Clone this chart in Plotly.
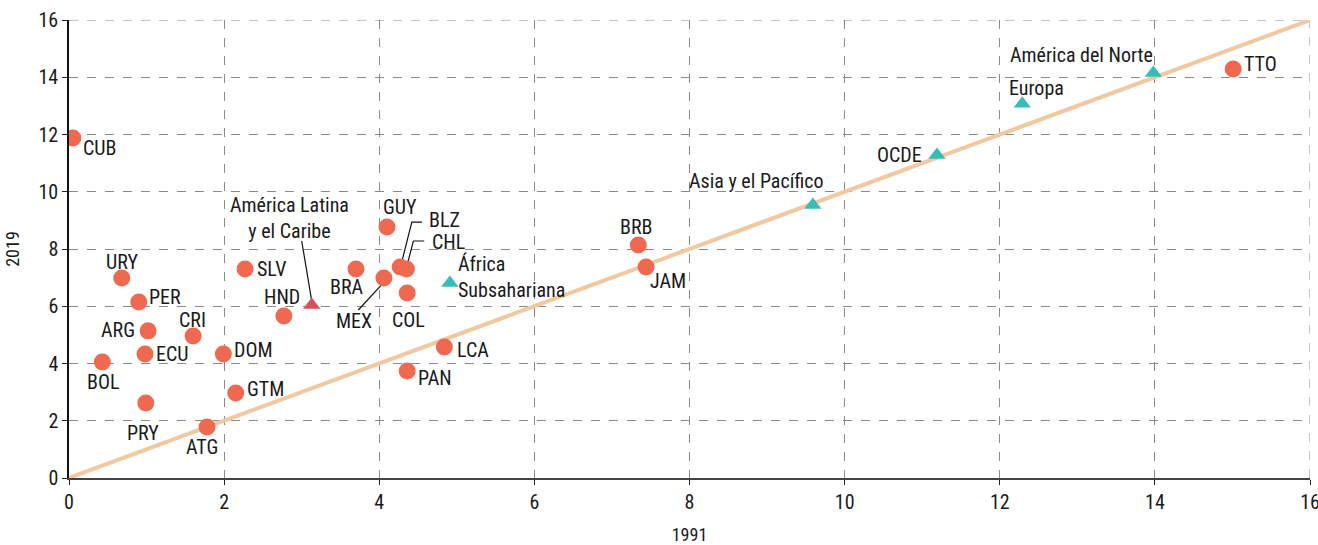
import plotly.graph_objects as go

# Países (círculos)
countries = ["CUB", "URY", "PER", "ARG", "ECU", "BOL", "PRY", "CRI", "DOM", "GTM", "ATG",
             "SLV", "HND", "BRA", "MEX", "GUY", "BLZ", "CHL", "COL", "LCA", "PAN",
             "BRB", "JAM", "TTO"]
country_1991 = [0.05, 0.68, 0.90, 1.02, 0.98, 0.43, 0.99, 1.60, 1.99, 2.15, 1.78,
                2.27, 2.77, 3.70, 4.06, 4.10, 4.27, 4.35, 4.36, 4.84, 4.36,
                7.34, 7.44, 15.01]
country_2019 = [11.88, 6.99, 6.15, 5.14, 4.33, 4.05, 2.62, 4.96, 4.33, 2.97, 1.78,
                7.30, 5.66, 7.30, 6.99, 8.77, 7.37, 7.30, 6.46, 4.58, 3.74,
                8.14, 7.37, 14.29]

# Regiones (triángulos)
regions = ["África<br>Subsahariana", "Asia y el Pacífico", "OCDE", "Europa", "América del Norte"]
region_1991 = [4.91, 9.59, 11.19, 12.29, 13.98]
region_2019 = [6.81, 9.54, 11.28, 13.07, 14.15]

lac_name = "América Latina<br>y el Caribe"
lac_1991 = [3.13]
lac_2019 = [6.04]

diagonal = [0, 16]
axis_max = 16

# label placement: (xanchor, xshift, yshift)
label_pos = {
    "CUB": ("left", 8, -10), "URY": ("center", 0, 16), "PER": ("left", 8, 5),
    "ARG": ("right", -11, 1), "ECU": ("left", 9, 0), "BOL": ("center", 1, -20),
    "PRY": ("center", -3, -30), "CRI": ("center", -1, 16), "DOM": ("left", 9, 4),
    "GTM": ("left", 9, 4), "ATG": ("center", -5, -20), "SLV": ("left", 10, 0),
    "HND": ("center", -2, 19), "BRA": ("center", -9, -18), "MEX": ("center", -30, -43),
    "GUY": ("center", 13, 20), "BLZ": ("left", 27, 47), "CHL": ("left", 24, 27),
    "COL": ("center", 1, -27), "LCA": ("left", 11, -3), "PAN": ("left", 9, -7),
    "BRB": ("center", -2, 18), "JAM": ("left", 2, -14), "TTO": ("left", 9, 5),
    "África<br>Subsahariana": ("left", 6, 6), "Asia y el Pacífico": ("center", -57, 24),
    "OCDE": ("right", -13, 0), "Europa": ("left", -15, 16),
    "América del Norte": ("right", 2, 18),
}

FONT = "Liberation Sans Narrow, Roboto Condensed, DejaVu Sans Condensed, sans-serif"
TEXT = "#1a1a1a"
GRID = "#8a8a8a"
SIZE = 20

fig = go.Figure()

fig.add_trace(go.Scatter(x=diagonal, y=diagonal, mode="lines",
                         line=dict(color="#f2c8a0", width=4), hoverinfo="skip"))

# leader lines (offsets relative to the marker)
ix = {c: i for i, c in enumerate(countries)}
leaders = []
bx, by = country_1991[ix["BLZ"]], country_2019[ix["BLZ"]]
leaders.append(([bx + 0.01, bx + 0.15, bx + 0.28], [by + 0.07, by + 1.57, by + 1.57]))
cx, cy = country_1991[ix["CHL"]], country_2019[ix["CHL"]]
leaders.append(([cx, cx + 0.09, cx + 0.23], [cy + 0.04, cy + 0.98, cy + 0.98]))
mx, my = country_1991[ix["MEX"]], country_2019[ix["MEX"]]
leaders.append(([mx - 0.01, mx - 0.33], [my - 0.18, my - 1.12]))
leaders.append(([lac_1991[0], lac_1991[0] - 0.13], [lac_2019[0] + 0.14, lac_2019[0] + 2.24]))
for lx, ly in leaders:
    fig.add_trace(go.Scatter(x=lx, y=ly, mode="lines",
                             line=dict(color="#111111", width=1.2), hoverinfo="skip"))

fig.add_trace(go.Scatter(x=country_1991, y=country_2019, mode="markers", text=countries,
                         marker=dict(symbol="circle", size=17, color="#ee6950")))
fig.add_trace(go.Scatter(x=region_1991, y=region_2019, mode="markers", text=regions,
                         marker=dict(symbol="triangle-up", size=15, color="#36bdb8")))
fig.add_trace(go.Scatter(x=lac_1991, y=lac_2019, mode="markers", text=[lac_name],
                         marker=dict(symbol="triangle-up", size=15, color="#d8505c")))

for name, x, y in list(zip(countries, country_1991, country_2019)) + \
        list(zip(regions, region_1991, region_2019)):
    xa, xs, ys = label_pos[name]
    fig.add_annotation(x=x, y=y, text=name, showarrow=False, xanchor=xa, yanchor="middle",
                       xshift=xs, yshift=ys, align="left",
                       font=dict(family=FONT, size=SIZE, color=TEXT))

fig.add_annotation(x=lac_1991[0], y=lac_2019[0], text=lac_name, showarrow=False,
                   xanchor="center", yanchor="middle", xshift=-22, yshift=87,
                   align="center", font=dict(family=FONT, size=SIZE, color=TEXT))

# plotly skips gridlines on the plot edge, so draw the ones at 16 by hand
fig.add_shape(type="line", xref="x", yref="paper", x0=axis_max, x1=axis_max, y0=0, y1=1,
              line=dict(color=GRID, width=1, dash="dash"), layer="below")
fig.add_shape(type="line", xref="paper", yref="y", x0=0, x1=1, y0=axis_max, y1=axis_max,
              line=dict(color=GRID, width=1, dash="dash"), layer="below")

axis_common = dict(range=[0, axis_max], dtick=2, tick0=0, showgrid=True, gridcolor=GRID,
                   griddash="dash", gridwidth=1, zeroline=False, ticks="outside",
                   ticklen=5, tickcolor="#222222", mirror=False, automargin=False,
                   ticklabeloverflow="allow",
                   tickfont=dict(family=FONT, size=SIZE, color=TEXT))

fig.update_xaxes(**axis_common, showline=True, linecolor="#444444", linewidth=2,
                 title=dict(text="1991", font=dict(family=FONT, size=18, color=TEXT), standoff=18))
fig.update_yaxes(**axis_common, showline=True, linecolor="#111111", linewidth=1.5,
                 title=dict(text="2019", font=dict(family=FONT, size=18, color=TEXT), standoff=14))

fig.update_layout(
    width=1318, height=545,
    margin=dict(l=69, r=8, t=20, b=67),
    plot_bgcolor="white", paper_bgcolor="white",
    showlegend=False,
    font=dict(family=FONT, color=TEXT),
)

# drop the default 8px page margin so the figure fills the window exactly
fig.write_html("out.html", config={"displayModeBar": False},
               post_script="document.body.style.margin='0';document.body.style.overflow='hidden';")
